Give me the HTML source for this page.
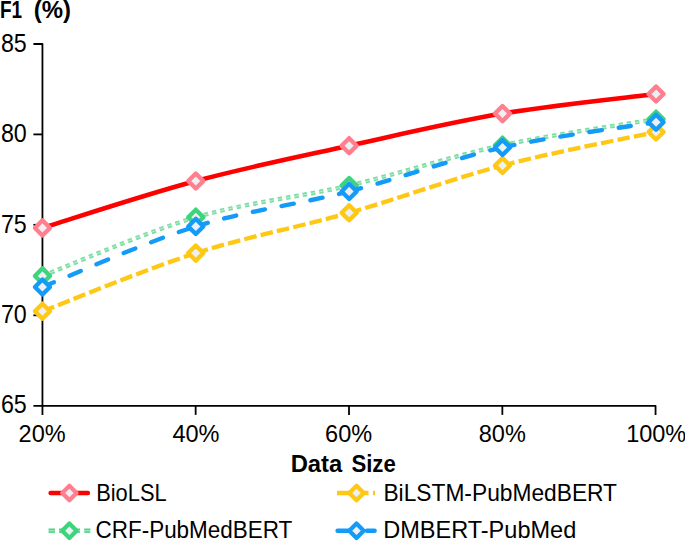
<!DOCTYPE html>
<html><head><meta charset="utf-8"><title>F1 vs Data Size</title>
<style>html,body{margin:0;padding:0;background:#fff;}body{width:685px;height:541px;overflow:hidden;font-family:"Liberation Sans",sans-serif;}svg{display:block;}</style>
</head><body>
<svg width="685" height="541" viewBox="0 0 685 541">
<rect width="100%" height="100%" fill="#fff"/>
<defs><mask id="gm" maskUnits="userSpaceOnUse" x="0" y="0" width="685" height="541"><rect width="685" height="541" fill="#000"/><path d="M42.45 275.90 C68.01 266.12 144.68 232.25 195.80 217.20 C246.92 202.15 298.03 197.60 349.15 185.60 C400.27 173.60 451.35 156.27 502.50 145.20 C553.65 134.13 630.46 123.53 656.05 119.20" fill="none" stroke="#fff" stroke-width="4.3"/><path d="M42.45 275.90 C68.01 266.12 144.68 232.25 195.80 217.20 C246.92 202.15 298.03 197.60 349.15 185.60 C400.27 173.60 451.35 156.27 502.50 145.20 C553.65 134.13 630.46 123.53 656.05 119.20" fill="none" stroke="#555" stroke-width="0.9"/></mask>
</defs>
<g stroke="#000" stroke-width="1.8" fill="none">
<path d="M33.4 44 H42.45 V414.9" stroke-linejoin="round"/>
<path d="M33.4 405.8 H655.55 V414.9" stroke-linejoin="round"/>
<path d="M33.4 134.40 H42.45"/>
<path d="M33.4 224.80 H42.45"/>
<path d="M33.4 315.30 H42.45"/>
<path d="M195.65 405.8 V414.9"/>
<path d="M349.00 405.8 V414.9"/>
<path d="M502.35 405.8 V414.9"/>
</g>
<path d="M42.45 227.90 C68.01 220.08 144.68 194.70 195.80 181.00 C246.92 167.30 298.03 156.93 349.15 145.70 C400.27 134.47 451.35 122.22 502.50 113.60 C553.65 104.98 630.46 97.27 656.05 94.00" fill="none" stroke="#FF0000" stroke-width="4.60" stroke-linecap="round"/>
<path d="M42.45 220.35 L50.00 227.90 L42.45 235.45 L34.90 227.90 Z" fill="#ECEFF3" stroke="#FF7F8E" stroke-width="4.30" stroke-linejoin="round"/>
<path d="M195.80 173.45 L203.35 181.00 L195.80 188.55 L188.25 181.00 Z" fill="#ECEFF3" stroke="#FF7F8E" stroke-width="4.30" stroke-linejoin="round"/>
<path d="M349.15 138.15 L356.70 145.70 L349.15 153.25 L341.60 145.70 Z" fill="#ECEFF3" stroke="#FF7F8E" stroke-width="4.30" stroke-linejoin="round"/>
<path d="M502.50 106.05 L510.05 113.60 L502.50 121.15 L494.95 113.60 Z" fill="#ECEFF3" stroke="#FF7F8E" stroke-width="4.30" stroke-linejoin="round"/>
<path d="M656.05 86.45 L663.60 94.00 L656.05 101.55 L648.50 94.00 Z" fill="#ECEFF3" stroke="#FF7F8E" stroke-width="4.30" stroke-linejoin="round"/>
<g fill="none" stroke="#FFC814" stroke-width="4.30" stroke-dasharray="12.6 4.2">
<path d="M42.45 311.20 C68.01 301.52 144.68 269.50 195.80 253.10"/>
<path d="M195.80 253.10 C246.92 236.70 298.03 227.40 349.15 212.80"/>
<path d="M349.15 212.80 C400.27 198.20 451.35 178.97 502.50 165.50"/>
<path d="M502.50 165.50 C553.65 152.03 630.46 137.58 656.05 132.00"/>
</g>
<path d="M42.45 303.65 L50.00 311.20 L42.45 318.75 L34.90 311.20 Z" fill="#ECEFF3" stroke="#FFC814" stroke-width="4.30" stroke-linejoin="round"/>
<path d="M195.80 245.55 L203.35 253.10 L195.80 260.65 L188.25 253.10 Z" fill="#ECEFF3" stroke="#FFC814" stroke-width="4.30" stroke-linejoin="round"/>
<path d="M349.15 205.25 L356.70 212.80 L349.15 220.35 L341.60 212.80 Z" fill="#ECEFF3" stroke="#FFC814" stroke-width="4.30" stroke-linejoin="round"/>
<path d="M502.50 157.95 L510.05 165.50 L502.50 173.05 L494.95 165.50 Z" fill="#ECEFF3" stroke="#FFC814" stroke-width="4.30" stroke-linejoin="round"/>
<path d="M656.05 124.45 L663.60 132.00 L656.05 139.55 L648.50 132.00 Z" fill="#ECEFF3" stroke="#FFC814" stroke-width="4.30" stroke-linejoin="round"/>
<g fill="none" stroke="#E2F8EB" stroke-width="4.7" stroke-dasharray="4.5 3.9">
<path d="M42.45 275.90 C68.01 266.12 144.68 232.25 195.80 217.20"/>
<path d="M195.80 217.20 C246.92 202.15 298.03 197.60 349.15 185.60"/>
<path d="M349.15 185.60 C400.27 173.60 451.35 156.27 502.50 145.20"/>
<path d="M502.50 145.20 C553.65 134.13 630.46 123.53 656.05 119.20"/>
</g>
<g fill="none" stroke="#7ADDA2" stroke-width="5" stroke-dasharray="4.4 4.0" mask="url(#gm)">
<path d="M42.45 275.90 C68.01 266.12 144.68 232.25 195.80 217.20"/>
<path d="M195.80 217.20 C246.92 202.15 298.03 197.60 349.15 185.60"/>
<path d="M349.15 185.60 C400.27 173.60 451.35 156.27 502.50 145.20"/>
<path d="M502.50 145.20 C553.65 134.13 630.46 123.53 656.05 119.20"/>
</g>
<path d="M42.45 268.35 L50.00 275.90 L42.45 283.45 L34.90 275.90 Z" fill="#ECEFF3" stroke="#3DD47D" stroke-width="4.30" stroke-linejoin="round"/>
<path d="M195.80 209.65 L203.35 217.20 L195.80 224.75 L188.25 217.20 Z" fill="#ECEFF3" stroke="#3DD47D" stroke-width="4.30" stroke-linejoin="round"/>
<path d="M349.15 178.05 L356.70 185.60 L349.15 193.15 L341.60 185.60 Z" fill="#ECEFF3" stroke="#3DD47D" stroke-width="4.30" stroke-linejoin="round"/>
<path d="M502.50 137.65 L510.05 145.20 L502.50 152.75 L494.95 145.20 Z" fill="#ECEFF3" stroke="#3DD47D" stroke-width="4.30" stroke-linejoin="round"/>
<path d="M656.05 111.65 L663.60 119.20 L656.05 126.75 L648.50 119.20 Z" fill="#ECEFF3" stroke="#3DD47D" stroke-width="4.30" stroke-linejoin="round"/>
<g fill="none" stroke="#149BF8" stroke-width="4.40" stroke-linecap="round" stroke-dasharray="12.4 17.0">
<path d="M42.45 287.00 C68.01 276.90 144.68 242.33 195.80 226.40"/>
<path d="M195.80 226.40 C246.92 210.47 298.03 204.55 349.15 191.40"/>
<path d="M349.15 191.40 C400.27 178.25 451.35 159.03 502.50 147.50"/>
<path d="M502.50 147.50 C553.65 135.97 630.46 126.42 656.05 122.20"/>
</g>
<path d="M42.45 279.45 L50.00 287.00 L42.45 294.55 L34.90 287.00 Z" fill="#ECEFF3" stroke="#149BF8" stroke-width="4.30" stroke-linejoin="round"/>
<path d="M195.80 218.85 L203.35 226.40 L195.80 233.95 L188.25 226.40 Z" fill="#ECEFF3" stroke="#149BF8" stroke-width="4.30" stroke-linejoin="round"/>
<path d="M349.15 183.85 L356.70 191.40 L349.15 198.95 L341.60 191.40 Z" fill="#ECEFF3" stroke="#149BF8" stroke-width="4.30" stroke-linejoin="round"/>
<path d="M502.50 139.95 L510.05 147.50 L502.50 155.05 L494.95 147.50 Z" fill="#ECEFF3" stroke="#149BF8" stroke-width="4.30" stroke-linejoin="round"/>
<path d="M656.05 114.65 L663.60 122.20 L656.05 129.75 L648.50 122.20 Z" fill="#ECEFF3" stroke="#149BF8" stroke-width="4.30" stroke-linejoin="round"/>
<path d="M50.6 493 H87.9" stroke="#FF0000" stroke-width="4.50" stroke-linecap="round"/>
<path d="M69.40 485.80 L76.60 493.00 L69.40 500.20 L62.20 493.00 Z" fill="#ECEFF3" stroke="#FF7F8E" stroke-width="4.2" stroke-linejoin="round"/>
<path d="M337 493 H375" stroke="#FFC814" stroke-width="4.50" stroke-dasharray="13.5 4.5"/>
<path d="M356.50 485.80 L363.70 493.00 L356.50 500.20 L349.30 493.00 Z" fill="#ECEFF3" stroke="#FFC814" stroke-width="4.2" stroke-linejoin="round"/>
<rect x="48.60" y="528.3" width="6.40" height="4.9" fill="#C4F0D5"/>
<rect x="48.60" y="528.65" width="6.40" height="1.75" fill="#55D488"/><rect x="48.60" y="531.2" width="6.40" height="1.65" fill="#55D488"/>
<rect x="59.00" y="528.3" width="6.20" height="4.9" fill="#C4F0D5"/>
<rect x="59.00" y="528.65" width="6.20" height="1.75" fill="#55D488"/><rect x="59.00" y="531.2" width="6.20" height="1.65" fill="#55D488"/>
<rect x="73.90" y="528.3" width="6.20" height="4.9" fill="#C4F0D5"/>
<rect x="73.90" y="528.65" width="6.20" height="1.75" fill="#55D488"/><rect x="73.90" y="531.2" width="6.20" height="1.65" fill="#55D488"/>
<rect x="84.30" y="528.3" width="6.00" height="4.9" fill="#C4F0D5"/>
<rect x="84.30" y="528.65" width="6.00" height="1.75" fill="#55D488"/><rect x="84.30" y="531.2" width="6.00" height="1.65" fill="#55D488"/>
<path d="M69.40 523.50 L76.60 530.70 L69.40 537.90 L62.20 530.70 Z" fill="#ECEFF3" stroke="#3DD47D" stroke-width="4.2" stroke-linejoin="round"/>
<path d="M337.6 530.7 H350.2 M367 530.7 H374.6" stroke="#149BF8" stroke-width="4.50" stroke-linecap="round"/>
<path d="M356.50 523.50 L363.70 530.70 L356.50 537.90 L349.30 530.70 Z" fill="#ECEFF3" stroke="#149BF8" stroke-width="4.2" stroke-linejoin="round"/>
<g font-family="'Liberation Sans', sans-serif" font-size="24" fill="#000">
<text transform="translate(0.02 17.55) scale(0.7895 0.9831)" font-weight="bold">F1</text>
<text transform="translate(33.65 17.55) scale(0.9986 0.9830)" font-weight="bold">(%)</text>
<text transform="translate(0.90 51.59) scale(0.9700 1.0450)">85</text>
<text transform="translate(0.90 142.05) scale(0.9700 1.0450)">80</text>
<text transform="translate(0.90 232.52) scale(0.9700 1.0450)">75</text>
<text transform="translate(0.90 322.98) scale(0.9700 1.0450)">70</text>
<text transform="translate(0.90 413.44) scale(0.9700 1.0450)">65</text>
<text transform="translate(18.56 441.60) scale(0.9800 1.0350)">20%</text>
<text transform="translate(172.45 441.60) scale(0.9800 1.0350)">40%</text>
<text transform="translate(325.11 441.60) scale(0.9800 1.0350)">60%</text>
<text transform="translate(478.77 441.60) scale(0.9800 1.0350)">80%</text>
<text transform="translate(626.13 441.60) scale(0.9800 1.0350)">100%</text>
<text transform="translate(290.66 472.10) scale(0.9922 1.0000)" font-weight="bold">Data</text>
<text transform="translate(351.38 472.10) scale(0.9236 1.0000)" font-weight="bold">Size</text>
<text transform="translate(96.19 501.10) scale(0.9104 1.0270)">BioLSL</text>
<text transform="translate(95.55 537.75) scale(0.9360 1.0220)">CRF-PubMedBERT</text>
<text transform="translate(383.43 501.10) scale(0.9486 1.0270)">BiLSTM-PubMedBERT</text>
<text transform="translate(383.13 537.75) scale(0.9812 1.0220)">DMBERT-PubMed</text>
</g>
</svg>
</body></html>
